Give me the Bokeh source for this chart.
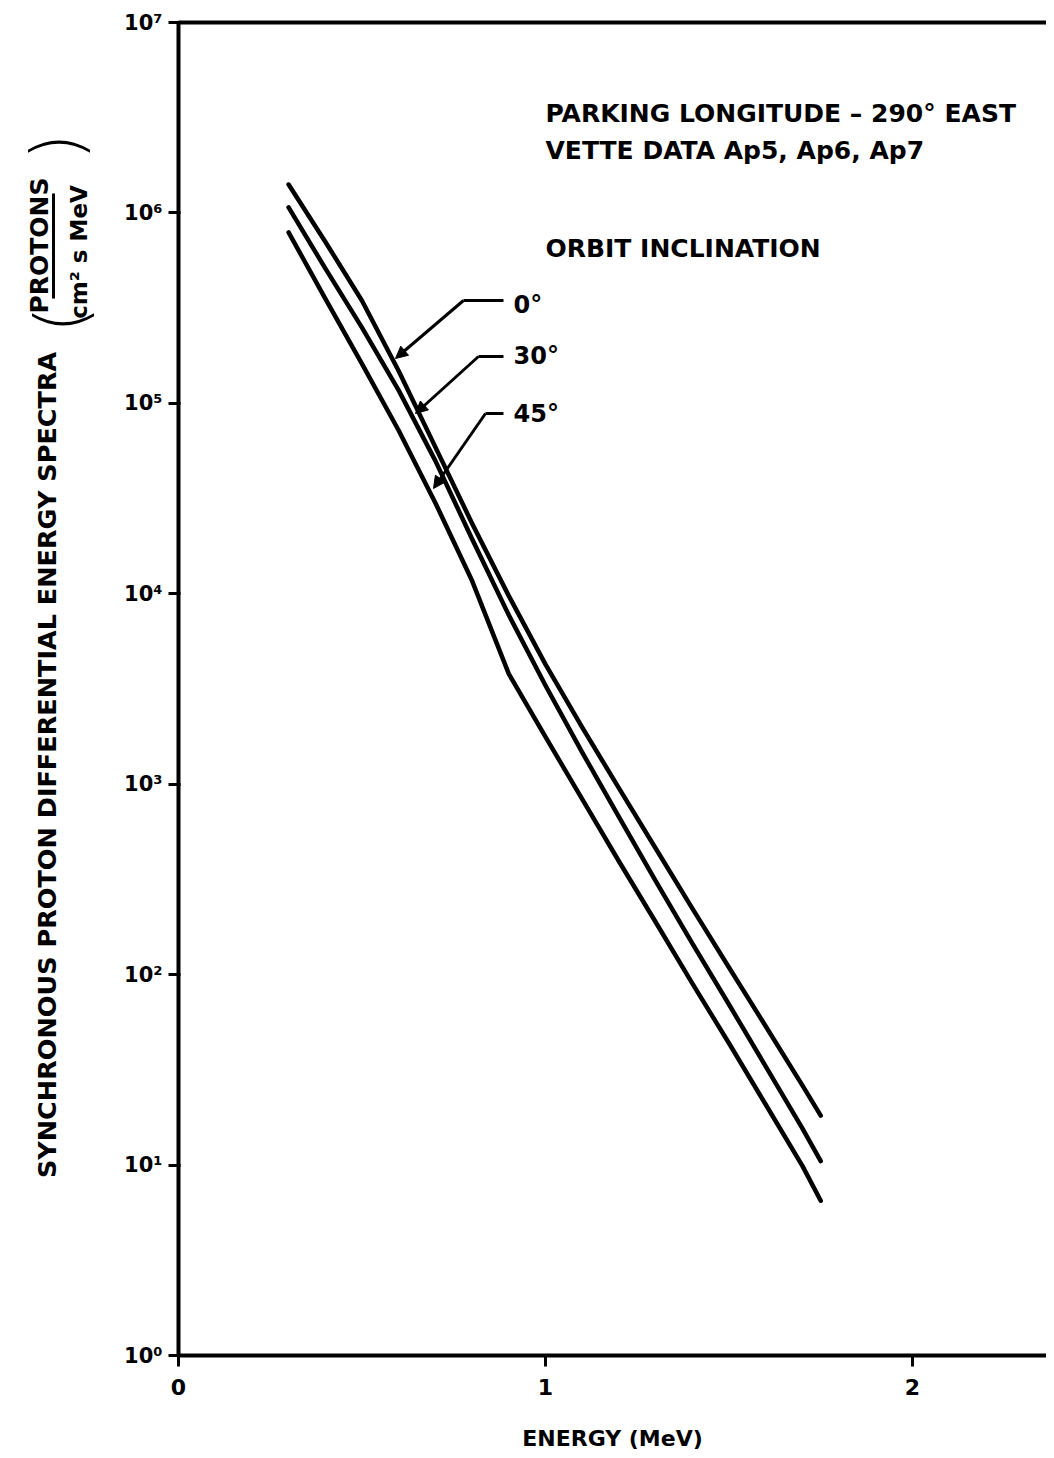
import math
from bokeh.plotting import figure
from bokeh.layouts import row
from bokeh.models import Range1d, FixedTicker, LinearAxis, Label, Arrow, NormalHead
from bokeh.core.properties import value
from bokeh.embed import file_html
from bokeh.resources import INLINE

# ---------------- data ----------------
energy_mev = [0.30, 0.40, 0.50, 0.60, 0.70, 0.80, 0.90, 1.00,
              1.10, 1.20, 1.30, 1.40, 1.50, 1.60, 1.70, 1.75]
flux_inc_0 = [1.41e6, 7.06e5, 3.46e5, 1.48e5, 5.89e4, 2.34e4, 9.75e3, 4.26e3,
              1.99e3, 953, 461, 223, 109, 53.6, 26.2, 18.2]
flux_inc_30 = [1.07e6, 5.11e5, 2.50e5, 1.17e5, 4.99e4, 1.94e4, 7.73e3, 3.30e3,
               1.47e3, 673, 311, 146, 69.7, 33.0, 15.6, 10.5]
flux_inc_45 = [7.9e5, 3.55e5, 1.61e5, 7.2e4, 3.0e4, 1.17e4, 3.8e3, 1.77e3,
               836, 394, 189, 90, 43.6, 20.8, 9.9, 6.5]

y_ticks = [1, 10, 100, 1000, 10000, 100000, 1000000, 10000000]
y_tick_labels = ["10⁰", "10¹", "10²", "10³", "10⁴", "10⁵", "10⁶", "10⁷"]
x_ticks = [0, 1, 2]
x_tick_labels = ["0", "1", "2"]

series_labels = ["0°", "30°", "45°"]
title_lines = ["PARKING LONGITUDE – 290° EAST", "VETTE DATA Ap5, Ap6, Ap7", "ORBIT INCLINATION"]
y_title = "SYNCHRONOUS PROTON DIFFERENTIAL ENERGY SPECTRA"
unit_num = "PROTONS"
unit_den = "cm² s MeV"
x_title = "ENERGY (MeV)"

# ---------------- layout ----------------
TOTAL_W, H = 1046, 1458
LW = 112                       # side strip carrying the y-axis title
MW = TOTAL_W - LW
FRAME_L, FRAME_T, FRAME_B = 178, 22, 1355   # page pixels
PX_PER_MEV = 367.0
x_end = (TOTAL_W - FRAME_L) / PX_PER_MEV

FONT = "DejaVu Sans"

p = figure(width=MW, height=H, x_range=Range1d(0, x_end), y_range=Range1d(1, 1e7),
           y_axis_type="log", output_backend="svg", toolbar_location=None,
           min_border_left=FRAME_L - LW, min_border_right=0,
           min_border_top=FRAME_T, min_border_bottom=H - FRAME_B)
p.grid.visible = False
p.outline_line_color = None
p.background_fill_color = "white"
p.border_fill_color = "white"

# y axis
ya = p.yaxis[0]
ya.ticker = FixedTicker(ticks=y_ticks)
ya.major_label_overrides = {t: s for t, s in zip(y_ticks, y_tick_labels)}
ya.axis_line_width = 4
ya.major_tick_line_width = 3
ya.major_tick_out = 10
ya.major_tick_in = 2
ya.minor_tick_line_color = None
ya.major_label_text_font = FONT
ya.major_label_text_font_style = "bold"
ya.major_label_text_font_size = "21px"
ya.major_label_standoff = 6
ya.major_label_text_color = "black"

# x axis
xa = p.xaxis[0]
xa.ticker = FixedTicker(ticks=x_ticks)
xa.major_label_overrides = {t: s for t, s in zip(x_ticks, x_tick_labels)}
xa.axis_line_width = 4
xa.major_tick_line_width = 3
xa.major_tick_out = 11
xa.major_tick_in = 0
xa.minor_tick_line_color = None
xa.major_label_text_font = FONT
xa.major_label_text_font_style = "bold"
xa.major_label_text_font_size = "22px"
xa.major_label_standoff = 12
xa.major_label_text_color = "black"
xa.axis_label = x_title
xa.axis_label_text_font = FONT
xa.axis_label_text_font_style = "bold"
xa.axis_label_text_font_size = "22px"
xa.axis_label_standoff = 28
xa.axis_label_text_color = "black"

# top frame line
top = LinearAxis(ticker=FixedTicker(ticks=[]), axis_line_width=4,
                 major_tick_out=0, major_tick_in=0, minor_tick_out=0, minor_tick_in=0,
                 major_label_standoff=0, axis_label_standoff=0)
p.add_layout(top, "above")

# curves
for ys in (flux_inc_0, flux_inc_30, flux_inc_45):
    p.line(energy_mev, ys, line_color="black", line_width=4.5, line_cap="round", line_join="round")

# helpers: page pixel -> frame-relative screen units of the main plot
def sx(X):
    return X - FRAME_L

def sy(Y):
    return FRAME_B - Y

def lab(text, X, Y, size, align="left"):
    p.add_layout(Label(x=sx(X), y=sy(Y), x_units="screen", y_units="screen", text=text,
                       text_font=FONT, text_font_style="bold", text_font_size=size,
                       text_color="black", text_align=align, text_baseline="middle"))

# annotation block at right
lab(title_lines[0], 545, 113, "25px")
lab(title_lines[1], 545, 150, "25px")
lab(title_lines[2], 545, 248, "25px")

label_pos = [(513, 304), (513, 355), (513, 413)]
for t, (X, Y) in zip(series_labels, label_pos):
    lab(t, X, Y, "24px")

# leader lines: (corner, end of horizontal, arrow tip)
leaders = [((463, 300), (503, 300), (395, 358)),
           ((478, 356), (503, 356), (415, 413)),
           ((485, 413), (503, 413), (433, 488))]
for (cx, cy), (hx, hy), (tx, ty) in leaders:
    p.add_layout(Arrow(start=None, end=None, x_start=sx(cx), y_start=sy(cy), x_end=sx(hx), y_end=sy(hy),
                       start_units="screen", end_units="screen", line_width=3, line_color="black"))
    p.add_layout(Arrow(start=None, end=NormalHead(size=12, fill_color="black", line_color="black", line_width=1),
                       x_start=sx(cx), y_start=sy(cy), x_end=sx(tx), y_end=sy(ty),
                       start_units="screen", end_units="screen", line_width=3, line_color="black"))

# ---------------- left strip with the y-axis title ----------------
left = figure(width=LW, height=H, x_range=Range1d(0, LW), y_range=Range1d(0, H),
              output_backend="svg", toolbar_location=None,
              x_axis_location=None, y_axis_location=None,
              min_border_left=0, min_border_right=0, min_border_top=0, min_border_bottom=0)
left.grid.visible = False
left.outline_line_color = None
left.background_fill_color = "white"
left.border_fill_color = "white"

def ltext(text, X, Y, size, style="bold", font=FONT):
    # rotated text reading bottom-to-top, centred on (X, Y)
    left.text(x=[X], y=[H - Y], text=[text], angle=math.pi / 2,
              text_font=value(font), text_font_style=style, text_font_size=size,
              text_color="black", text_align="center", text_baseline="middle")

ltext(y_title, 46, 812, "25.5px")
ltext(unit_num, 39, 244, "25px")
ltext(unit_den, 78, 251, "23px")
left.line(x=[53, 53], y=[H - 187, H - 302], line_color="black", line_width=3)
ltext("(", 60, 325, "70px", style="normal", font="'DejaVu Sans Light', 'Liberation Sans'")
ltext(")", 56, 136, "70px", style="normal", font="'DejaVu Sans Light', 'Liberation Sans'")

layout = row(left, p)
open("out.html", "w").write(file_html(layout, INLINE))
